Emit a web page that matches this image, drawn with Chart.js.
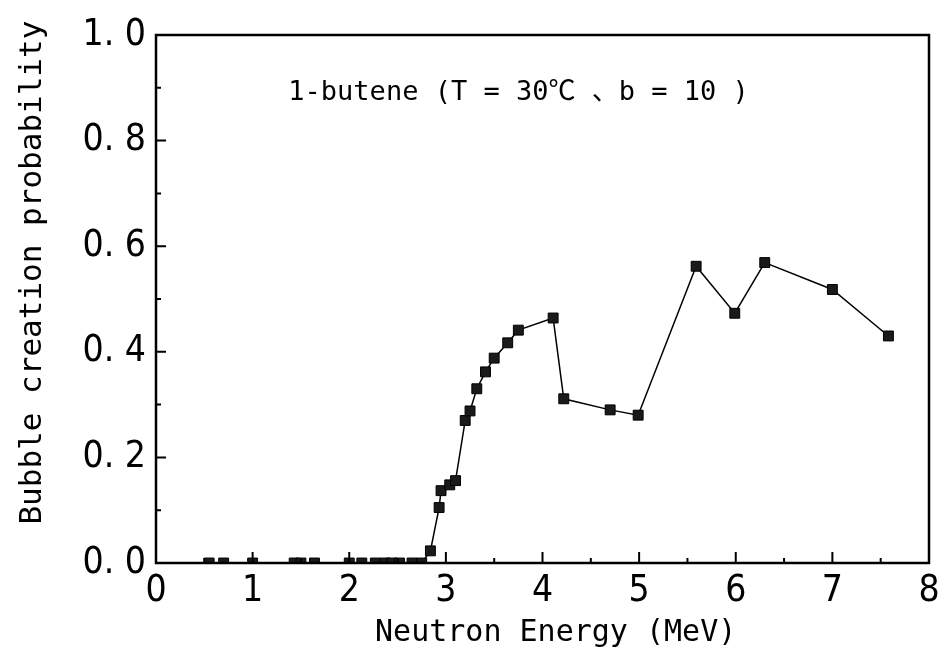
<!DOCTYPE html>
<html>
<head>
<meta charset="utf-8">
<script src="https://cdn.jsdelivr.net/npm/chart.js@4.4.0/dist/chart.umd.min.js"></script>
<style>
  html, body { margin: 0; padding: 0; background: #fff; }
  #wrap { width: 938px; height: 655px; }
</style>
</head>
<body>
<div id="wrap"><canvas id="bubbleChart"></canvas></div>
<script>
// neutron energy (MeV) and bubble creation probability
var energy = [0.55, 0.70, 1.00, 1.43, 1.50, 1.64, 2.00, 2.13, 2.27, 2.37, 2.44, 2.52, 2.65, 2.75,
              2.84, 2.93, 2.95, 3.04, 3.10, 3.20, 3.25, 3.32, 3.41, 3.50, 3.64, 3.75,
              4.11, 4.22, 4.70, 4.99, 5.59, 5.99, 6.30, 7.00, 7.58];
var probability = [0, 0, 0, 0, 0, 0, 0, 0, 0, 0, 0, 0, 0, 0,
                   0.023, 0.105, 0.137, 0.148, 0.156, 0.270, 0.288, 0.330, 0.362, 0.388, 0.417, 0.441,
                   0.464, 0.311, 0.290, 0.280, 0.562, 0.473, 0.569, 0.518, 0.430];
var xTicks = [0, 1, 2, 3, 4, 5, 6, 7, 8];
var yTickLabels = ['0. 0', '0. 2', '0. 4', '0. 6', '0. 8', '1. 0'];
var xTitle = 'Neutron Energy (MeV)';
var yTitle = 'Bubble creation probability';
var annotation = '1-butene (T = 30\u2103 \u3001b = 10 )';

var tickFont = "'Liberation Sans Narrow', 'DejaVu Sans Condensed', sans-serif";
var monoFont = "'DejaVu Sans Mono', 'Noto Sans CJK JP', monospace";

var points = energy.map(function (e, i) { return { x: e, y: probability[i] }; });

// frame, inward ticks, axis titles and the label inside the plot
var framePlugin = {
    id: 'frame',
    afterDraw: function (chart) {
        var ctx = chart.ctx, a = chart.chartArea;
        var xs = chart.scales.x, ys = chart.scales.y;
        ctx.save();
        ctx.strokeStyle = '#000';
        ctx.lineWidth = 2.5;
        ctx.strokeRect(a.left, a.top, a.right - a.left, a.bottom - a.top);

        ctx.lineWidth = 2;
        ctx.beginPath();
        for (var v = 0; v <= 8.001; v += 0.5) {
            var px = xs.getPixelForValue(v);
            var len = (Math.abs(v - Math.round(v)) < 1e-6) ? 11 : 5;
            ctx.moveTo(px, a.bottom);
            ctx.lineTo(px, a.bottom - len);
        }
        for (var w = 0; w <= 1.0001; w += 0.1) {
            var py = ys.getPixelForValue(w);
            var k = Math.round(w * 10);
            var l2 = (k % 2 === 0) ? 10 : 5;
            ctx.moveTo(a.left, py);
            ctx.lineTo(a.left + l2, py);
        }
        ctx.stroke();

        ctx.fillStyle = '#000';
        ctx.textAlign = 'center';
        ctx.textBaseline = 'middle';
        ctx.font = '27px ' + monoFont;
        ctx.fillText(annotation, a.left + (a.right - a.left) * 0.469, a.top + 58);

        ctx.font = '30px ' + monoFont;
        ctx.fillText(xTitle, a.left + (a.right - a.left) * 0.517, a.bottom + 70);

        ctx.translate(33, a.top + (a.bottom - a.top) * 0.45);
        ctx.rotate(-Math.PI / 2);
        ctx.font = '31px ' + monoFont;
        ctx.fillText(yTitle, 0, 0);
        ctx.restore();
    }
};

var ctx = document.getElementById('bubbleChart').getContext('2d');
var bubbleChart = new Chart(ctx, {
    type: 'scatter',
    data: {
        datasets: [{
            label: yTitle,
            data: points,
            showLine: true,
            borderColor: '#000',
            borderWidth: 1.5,
            pointStyle: 'rect',
            pointRadius: 7,
            pointBackgroundColor: '#1a1a1a',
            pointBorderColor: '#000',
            pointBorderWidth: 1,
            tension: 0
        }]
    },
    options: {
        responsive: true,
        maintainAspectRatio: false,
        animation: false,
        layout: { padding: { left: 0, right: 9, top: 35, bottom: 0 } },
        plugins: {
            legend: { display: false },
            tooltip: { enabled: false }
        },
        scales: {
            x: {
                type: 'linear',
                min: 0,
                max: 8,
                afterBuildTicks: function (s) { s.ticks = xTicks.map(function (v) { return { value: v }; }); },
                afterFit: function (s) {
                    s.height = 92;
                    s.paddingLeft = 0;
                    s.paddingRight = 0;
                },
                grid: { display: false, drawTicks: false },
                border: { display: false },
                ticks: {
                    color: '#000',
                    padding: 6,
                    maxRotation: 0,
                    font: { family: tickFont, size: 37 }
                }
            },
            y: {
                min: 0,
                max: 1,
                afterBuildTicks: function (s) {
                    s.ticks = yTickLabels.map(function (t, i) { return { value: i * 0.2 }; });
                },
                afterFit: function (s) {
                    s.width = 156;
                    s.paddingTop = 0;
                    s.paddingBottom = 0;
                },
                grid: { display: false, drawTicks: false },
                border: { display: false },
                ticks: {
                    color: '#000',
                    padding: 10,
                    font: { family: tickFont, size: 37 },
                    callback: function (v, i) { return yTickLabels[i]; }
                }
            }
        }
    },
    plugins: [framePlugin]
});
</script>
</body>
</html>
